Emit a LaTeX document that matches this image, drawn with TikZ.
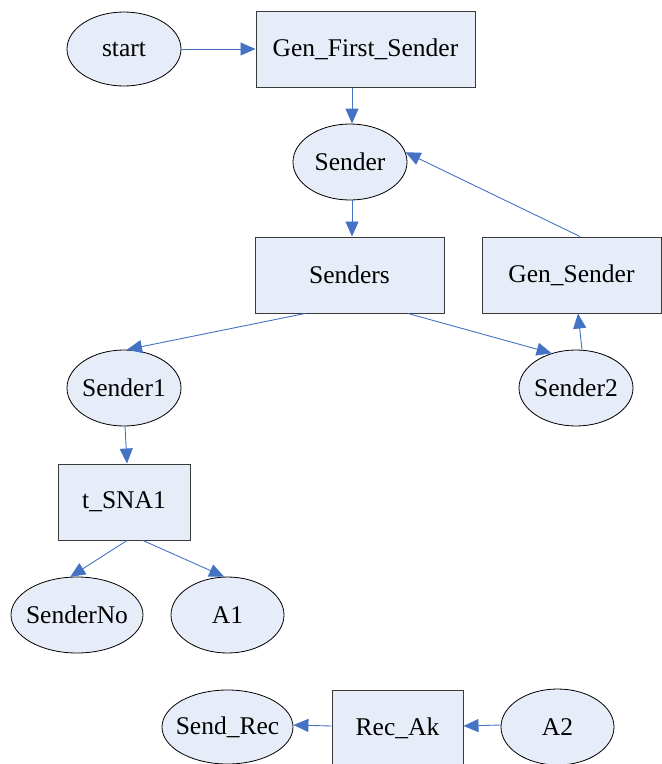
\documentclass[tikz,border=0pt]{standalone}
\usepackage{fontspec}
\setmainfont{Liberation Serif}
\usetikzlibrary{shapes.geometric,arrows.meta}
\definecolor{nodefill}{HTML}{E7EDF8}
\definecolor{edgeblue}{HTML}{4472C4}
\definecolor{boxline}{HTML}{3A3A3A}
\newcommand{\ztxt}[1]{\makebox[0pt][c]{#1}}
\tikzset{
  ell/.style={ellipse, draw=black, line width=0.8pt, fill=nodefill, inner sep=0pt,
    font=\fontsize{25.5}{30}\selectfont},
  box/.style={rectangle, draw=boxline, line width=1pt, fill=nodefill, inner sep=0pt,
    minimum height=76pt, font=\fontsize{25.5}{30}\selectfont},
  conn/.style={draw=edgeblue, line width=0.9pt, -{Triangle[length=15pt,width=13pt]}}
}
\begin{document}
\begin{tikzpicture}[x=1pt,y=-1pt]
\useasboundingbox (0,0) rectangle (662,764);
% ellipses
\node[ell, minimum width=114pt, minimum height=74pt] (start) at (124,49) {\ztxt{start}};
\node[ell, minimum width=114pt, minimum height=76pt] (sender) at (350,162) {\ztxt{Sender}};
\node[ell, minimum width=114pt, minimum height=76pt] (sender1) at (124,388) {\ztxt{Sender1}};
\node[ell, minimum width=114pt, minimum height=76pt] (sender2) at (576,388) {\ztxt{Sender2}};
\node[ell, minimum width=132pt, minimum height=76pt] (senderno) at (77,615) {\ztxt{SenderNo}};
\node[ell, minimum width=113pt, minimum height=76pt] (a1) at (227.5,615) {\ztxt{A1}};
\node[ell, minimum width=131pt, minimum height=74pt] (sendrec) at (227.5,727) {\ztxt{Send\_Rec}};
\node[ell, minimum width=113pt, minimum height=76pt] (a2) at (557.5,727) {\ztxt{A2}};
% boxes
\node[box, minimum width=219pt] (gfs) at (365.5,49) {Gen\_First\_Sender};
\node[box, minimum width=189pt] (senders) at (349.5,275) {Senders};
\node[box, minimum width=179pt] (gensender) at (571.5,275) {Gen\_Sender};
\node[box, minimum width=132pt] (tsna) at (124,502) {t\_SNA1};
\node[box, minimum width=131pt] (recak) at (397.5,728) {Rec\_Ak};
% connectors
\draw[conn] (start.east) -- (gfs.west);
\draw[conn] ([xshift=-13.5pt]gfs.south) -- ([xshift=2pt]sender.north);
\draw[conn] ([xshift=8.5pt]gensender.north) -- (sender.10);
\draw[conn] ([xshift=2pt]sender.south) -- ([xshift=2.5pt]senders.north);
\draw[conn] ([xshift=-44.5pt]senders.south) -- ([xshift=3pt]sender1.north);
\draw[conn] ([xshift=58.5pt]senders.south) -- (sender2.125);
\draw[conn] ([xshift=6pt]sender2.north) -- ([xshift=6.5pt]gensender.south);
\draw[conn] ([xshift=1pt]sender1.south) -- ([xshift=3pt]tsna.north);
\draw[conn] ([xshift=3pt]tsna.south) -- (senderno.100);
\draw[conn] ([xshift=19pt]tsna.south) -- (a1.95);
\draw[conn] ([yshift=2pt]recak.west) -- ([yshift=2pt]sendrec.east);
\draw[conn] ([yshift=2pt]a2.west) -- ([yshift=2pt]recak.east);
\end{tikzpicture}
\end{document}
